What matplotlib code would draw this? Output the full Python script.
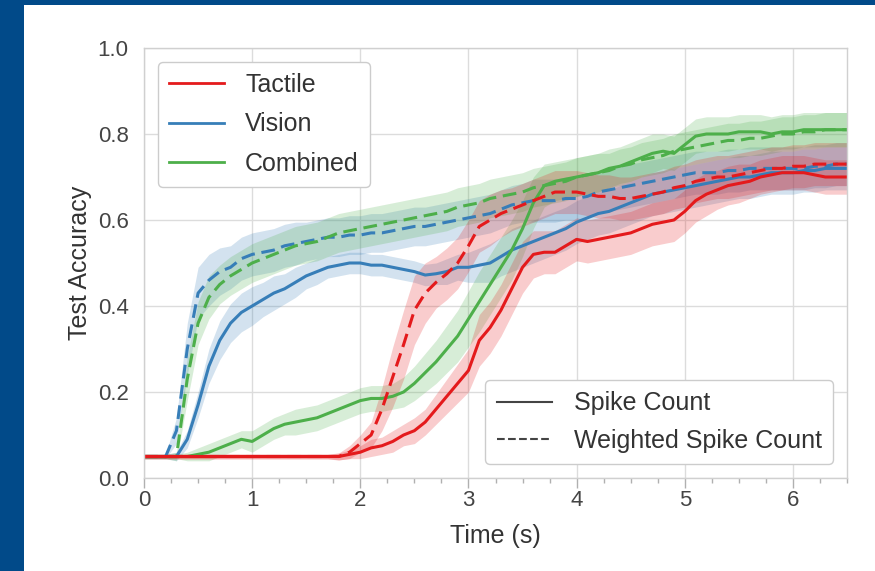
import numpy as np
import matplotlib
matplotlib.use("Agg")
import matplotlib.pyplot as plt
from matplotlib.lines import Line2D
from matplotlib.patches import Rectangle
from matplotlib.ticker import MultipleLocator

# time axis, 0.1 s steps
t = np.round(np.arange(66) * 0.1, 1)

# mean test accuracy per modality, spike count readout
tac_s = [.05, .05, .05, .05, .05, .05, .05, .05, .05, .05, .05,
         .05, .05, .05, .05, .05, .05, .05, .05, .055, .06, .07,
         .075, .085, .10, .11, .13, .16, .19, .22, .25, .32, .35,
         .39, .44, .49, .52, .525, .525, .54, .555, .55, .555, .56,
         .565, .57, .58, .59, .595, .60, .62, .645, .66, .67, .68,
         .685, .69, .70, .705, .71, .71, .71, .705, .70, .70, .70]
vis_s = [.05, .05, .05, .05, .09, .17, .26, .32, .36, .385, .40,
         .415, .43, .44, .455, .47, .48, .49, .495, .50, .50, .495,
         .495, .49, .485, .48, .472, .475, .48, .49, .49, .495, .50,
         .515, .53, .54, .55, .56, .57, .58, .595, .605, .615, .62,
         .63, .64, .65, .66, .665, .67, .675, .68, .685, .69, .695,
         .70, .70, .705, .71, .71, .71, .715, .715, .72, .72, .72]
comb_s = [.05, .05, .05, .05, .05, .055, .06, .07, .08, .09, .085,
          .10, .115, .125, .13, .135, .14, .15, .16, .17, .18, .185,
          .185, .19, .20, .22, .245, .27, .30, .33, .37, .41, .45,
          .49, .53, .58, .64, .68, .69, .695, .70, .705, .71, .72,
          .725, .735, .745, .755, .76, .755, .775, .795, .80, .80, .80,
          .805, .805, .805, .80, .805, .805, .81, .81, .81, .81, .81]

# weighted spike count readout
tac_w = [.05, .05, .05, .05, .05, .05, .05, .05, .05, .05, .05,
         .05, .05, .05, .05, .05, .05, .05, .05, .06, .08, .10,
         .16, .235, .31, .39, .43, .455, .475, .50, .54, .585, .60,
         .615, .625, .635, .645, .655, .665, .665, .665, .66, .655, .655,
         .65, .65, .655, .66, .665, .675, .68, .69, .695, .70, .70,
         .705, .71, .715, .72, .72, .725, .725, .73, .73, .73, .73]
vis_w = [.05, .05, .05, .11, .30, .43, .46, .48, .49, .51, .52,
         .525, .53, .54, .545, .55, .555, .56, .56, .565, .565, .57,
         .57, .575, .58, .585, .585, .59, .595, .60, .605, .61, .615,
         .625, .635, .64, .645, .645, .645, .65, .65, .655, .665, .67,
         .675, .68, .685, .69, .695, .70, .705, .71, .71, .71, .715,
         .715, .72, .72, .72, .72, .72, .72, .725, .725, .73, .73]
comb_w = [.05, .05, .05, .05, .23, .36, .42, .45, .47, .485, .50,
          .51, .52, .53, .54, .545, .55, .56, .57, .575, .58, .585,
          .59, .595, .60, .605, .61, .615, .62, .63, .635, .64, .65,
          .655, .66, .665, .675, .68, .685, .69, .70, .705, .71, .715,
          .725, .73, .74, .745, .75, .76, .765, .77, .775, .78, .785,
          .785, .79, .79, .795, .80, .80, .805, .805, .81, .81, .81]

# standard deviation across runs
tac_s_sd = [.006, .006, .006, .006, .006, .006, .006, .006, .006, .006, .006,
            .006, .006, .006, .006, .006, .006, .006, .008, .01, .015, .02,
            .02, .025, .025, .03, .03, .035, .04, .045, .05, .06, .06,
            .06, .06, .06, .055, .05, .05, .05, .05, .05, .05, .05,
            .05, .05, .05, .05, .05, .05, .05, .05, .05, .045, .045,
            .045, .04, .04, .04, .04, .04, .04, .04, .04, .04, .04]
vis_s_sd = [.005, .005, .005, .01, .02, .03, .04, .045, .045, .045, .045,
            .04, .04, .035, .035, .03, .03, .025, .025, .025, .025, .025,
            .025, .025, .025, .025, .025, .025, .03, .03, .035, .04, .045,
            .045, .05, .05, .05, .05, .05, .05, .05, .05, .05, .05,
            .05, .05, .05, .05, .05, .05, .05, .05, .05, .05, .05,
            .05, .05, .05, .05, .05, .05, .05, .05, .05, .05, .05]
comb_s_sd = [.005, .005, .005, .005, .01, .015, .02, .02, .02, .02, .025,
             .025, .025, .025, .03, .03, .03, .03, .03, .03, .03, .03,
             .03, .03, .035, .04, .045, .05, .055, .06, .065, .07, .07,
             .07, .07, .065, .06, .05, .045, .045, .045, .045, .045, .045,
             .045, .045, .045, .045, .04, .04, .04, .04, .04, .04, .04,
             .04, .04, .04, .04, .04, .04, .04, .04, .04, .04, .04]
tac_w_sd = [.005, .005, .005, .005, .005, .005, .005, .005, .005, .005, .005,
            .005, .005, .005, .005, .005, .005, .005, .008, .015, .02, .03,
            .05, .07, .08, .08, .07, .06, .06, .06, .06, .06, .06,
            .055, .05, .05, .05, .05, .05, .05, .05, .05, .05, .05,
            .05, .05, .05, .05, .05, .05, .05, .05, .05, .05, .05,
            .05, .05, .05, .05, .05, .05, .05, .05, .05, .05, .05]
vis_w_sd = [.005, .005, .005, .03, .06, .06, .06, .055, .05, .05, .05,
            .05, .05, .05, .05, .045, .045, .045, .045, .045, .045, .045,
            .045, .045, .045, .045, .045, .045, .045, .045, .045, .045, .045,
            .045, .045, .045, .05, .05, .05, .05, .05, .05, .05, .05,
            .05, .05, .05, .05, .05, .05, .05, .05, .05, .05, .05,
            .05, .05, .05, .05, .05, .05, .05, .05, .05, .05, .05]
comb_w_sd = [.005, .005, .005, .01, .05, .05, .05, .045, .045, .045, .045,
             .045, .045, .045, .045, .045, .045, .045, .045, .045, .045, .045,
             .045, .045, .045, .045, .045, .045, .045, .045, .045, .045, .045,
             .045, .045, .045, .045, .045, .045, .045, .045, .045, .045, .04,
             .04, .04, .04, .04, .04, .04, .04, .04, .04, .04, .04,
             .04, .04, .04, .04, .04, .04, .04, .04, .04, .04, .04]

modalities = ["Tactile", "Vision", "Combined"]
colors = {"Tactile": "#e41a1c", "Vision": "#377eb8", "Combined": "#4daf4a"}
series = [
    ("Vision", vis_s, vis_s_sd, "-"),
    ("Vision", vis_w, vis_w_sd, "--"),
    ("Combined", comb_s, comb_s_sd, "-"),
    ("Combined", comb_w, comb_w_sd, "--"),
    ("Tactile", tac_s, tac_s_sd, "-"),
    ("Tactile", tac_w, tac_w_sd, "--"),
]

plt.rcParams["font.family"] = ["Liberation Sans", "DejaVu Sans"]

fig = plt.figure(figsize=(8.75, 5.71), dpi=100)
# dark blue frame on the left and top
fig.patches.append(Rectangle((0, 0), 24 / 875, 1, transform=fig.transFigure,
                             facecolor="#014a89", edgecolor="none", zorder=0))
fig.patches.append(Rectangle((0, 1 - 5 / 571), 1, 5 / 571, transform=fig.transFigure,
                             facecolor="#014a89", edgecolor="none", zorder=0))

ax = fig.add_axes([144 / 875, 93 / 571, 703 / 875, 430 / 571])

for name, mean, sd, ls in series:
    m = np.array(mean)
    s = np.array(sd)
    c = colors[name]
    ax.fill_between(t, m - s, m + s, color=c, alpha=0.22, linewidth=0)
    line, = ax.plot(t, m, ls, color=c, lw=2.2)
    if ls == "--":
        line.set_dashes((4.5, 2.2))

ax.set_xlim(0, 6.5)
ax.set_ylim(0, 1.0)
ax.xaxis.set_major_locator(MultipleLocator(1))
ax.xaxis.set_minor_locator(MultipleLocator(0.25))
ax.yaxis.set_major_locator(MultipleLocator(0.2))
ax.yaxis.set_major_formatter(plt.FuncFormatter(lambda v, _: f"{v:.1f}"))
ax.grid(True, which="major", color="#dcdcdc", lw=1.0)
ax.set_axisbelow(True)
for sp in ax.spines.values():
    sp.set_color("#d0d0d0")
    sp.set_linewidth(1.0)
ax.tick_params(axis="x", which="major", direction="out", length=7, width=1,
               color="#b0b0b0", labelsize=16, labelcolor="#444444", pad=2)
ax.tick_params(axis="x", which="minor", direction="out", length=3.5, width=1,
               color="#b0b0b0")
ax.tick_params(axis="y", length=0, labelsize=16, labelcolor="#444444", pad=11)

ax.set_xlabel("Time (s)", fontsize=18, color="#333333", labelpad=9)
ax.set_ylabel("Test Accuracy", fontsize=18, color="#333333", labelpad=4)

mod_handles = [Line2D([], [], color=colors[n], lw=2) for n in modalities]
leg1 = ax.legend(mod_handles, modalities, loc="upper left", fontsize=18,
                 frameon=True, edgecolor="#cccccc", framealpha=1.0,
                 handlelength=2.2, handletextpad=0.85, borderpad=0.45,
                 labelspacing=0.62, borderaxespad=0.55)
leg1.get_frame().set_linewidth(1.0)
for txt in leg1.get_texts():
    txt.set_color("#333333")
ax.add_artist(leg1)

read_handles = [Line2D([], [], color="#444444", lw=1.5, ls="-"),
                Line2D([], [], color="#444444", lw=1.5, ls="--")]
leg2 = ax.legend(read_handles, ["Spike Count", "Weighted Spike Count"],
                 loc="lower right", fontsize=18, frameon=True,
                 edgecolor="#cccccc", framealpha=1.0, handlelength=2.2,
                 handletextpad=0.9, borderpad=0.45, labelspacing=0.55,
                 borderaxespad=0.55)
leg2.get_frame().set_linewidth(1.0)
for txt in leg2.get_texts():
    txt.set_color("#333333")

fig.savefig("out.png", dpi=100)
